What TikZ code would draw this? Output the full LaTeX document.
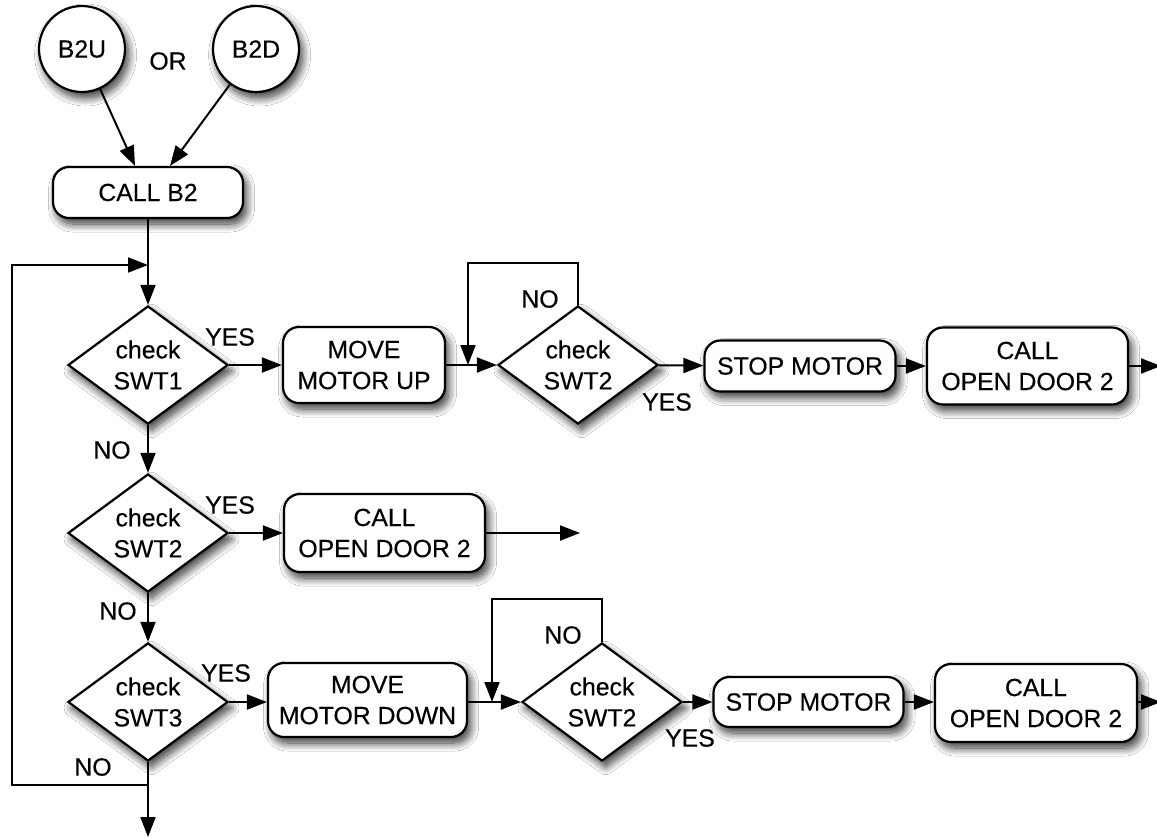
\documentclass[tikz,border=0pt]{standalone}
\usepackage{fontspec}
\setmainfont{Liberation Sans}[FakeBold=0.35]
\usetikzlibrary{shapes.geometric,arrows.meta,shadows.blur,calc}

\begin{document}
\begin{tikzpicture}[x=0.5pt,y=-0.5pt,
  every node/.style={font=\fontsize{12.4pt}{15.5pt}\selectfont, inner sep=0pt, align=center},
  castshadow/.style={blur shadow={shadow xshift=1.8pt, shadow yshift=-3pt,
      shadow blur radius=4pt, shadow opacity=80, shadow blur steps=14}},
  terminal/.style={circle, draw, line width=1.1pt, fill=white, minimum size=43pt, castshadow},
  proc/.style={rectangle, rounded corners=8pt, draw, line width=1.1pt, fill=white, castshadow},
  decide/.style={diamond, draw, line width=1.1pt, fill=white,
      minimum width=80pt, minimum height=51pt, castshadow},
  wire/.style={line width=1pt},
  arr/.style={wire, -{Triangle[length=10pt,width=7.5pt]}},
  lbl/.style={fill=none}
]
% page area
\fill[white] (0,0) rectangle (1157,837);
\useasboundingbox (0,0) rectangle (1157,837);

% start events
\node[terminal] (b2u) at (82,49) {B2U};
\node[terminal] (b2d) at (256,49) {B2D};
\node[lbl] (orlbl) at (168,61) {OR};
\node[proc, minimum width=95pt, minimum height=25.5pt] (callb2) at (148,192.5) {CALL B2};

% first row: move up
\node[decide] (d1) at (148,365) {check\\SWT1};
\node[proc, minimum width=81pt, minimum height=38pt] (moveup) at (364,365) {MOVE\\MOTOR UP};
\node[decide] (d2) at (578,365) {check\\SWT2};
\node[proc, minimum width=95.5pt, minimum height=25.5pt] (stop1) at (800,366) {STOP MOTOR};
\node[proc, minimum width=100.5pt, minimum height=38.5pt] (open1) at (1027.5,366) {CALL\\OPEN DOOR 2};

% second row: already at floor
\node[decide] (d3) at (148,533) {check\\SWT2};
\node[proc, minimum width=100.5pt, minimum height=39pt] (open2) at (384.5,533) {CALL\\OPEN DOOR 2};

% third row: move down
\node[decide] (d4) at (148,702) {check\\SWT3};
\node[proc, minimum width=99.5pt, minimum height=37pt] (movedown) at (367.5,700) {MOVE\\MOTOR DOWN};
\node[decide] (d5) at (602,702) {check\\SWT2};
\node[proc, minimum width=95pt, minimum height=25pt] (stop2) at (808.5,702) {STOP MOTOR};
\node[proc, minimum width=101pt, minimum height=39pt] (open3) at (1036,703) {CALL\\OPEN DOOR 2};

% branch labels
\node[lbl] (y1) at (230,337) {YES};
\node[lbl] (n1) at (112,450) {NO};
\node[lbl] (y3) at (230,505) {YES};
\node[lbl] (n3) at (118,611) {NO};
\node[lbl] (y4) at (226,673) {YES};
\node[lbl] (n4) at (93,767) {NO};
\node[lbl] (n2) at (540,299) {NO};
\node[lbl] (y2) at (667,402) {YES};
\node[lbl] (n5) at (563,635) {NO};
\node[lbl] (y5) at (690,738) {YES};

% helper points
\coordinate (merge) at (148,265);
\coordinate (split) at (148,785);
\coordinate (lft) at (12,785);
\coordinate (exitdown) at (148,837);
\coordinate (loopa) at (468,263);
\coordinate (loopb) at (492,599);
\coordinate (out1) at (1161,366);
\coordinate (out2) at (580,533);
\coordinate (out3) at (1161,703);

% connectors
\draw[arr] (b2u) -- ($(callb2.north)+(-6.5pt,0)$);
\draw[arr] (b2d) -- ($(callb2.north)+(11pt,0)$);
\draw[arr] (callb2) -- (d1);
\draw[arr] (split) -- (lft) |- (merge);

\draw[arr] (d1) -- (moveup);
\draw[arr] (moveup) -- (d2);
\draw[arr] (d2.north) |- (loopa) -- (loopa |- d2.west);
\draw[arr] (d2) -- (stop1);
\draw[arr] (stop1) -- (open1);
\draw[arr] (open1) -- (out1);

\draw[arr] (d1) -- (d3);
\draw[arr] (d3) -- (open2);
\draw[arr] (open2) -- (out2);

\draw[arr] (d3) -- (d4);
\draw[arr] (d4) -- (movedown.west |- d4.east);
\draw[arr] (movedown.east |- d5.west) -- (d5);
\draw[arr] (d5.north) |- (loopb) -- (loopb |- d5.west);
\draw[arr] (d5) -- (stop2);
\draw[arr] (stop2) -- (open3.west |- stop2.east);
\draw[arr] (open3.east |- stop2.east) -- (out3 |- stop2.east);

\draw[arr] (d4) -- (exitdown);
\end{tikzpicture}
\end{document}
